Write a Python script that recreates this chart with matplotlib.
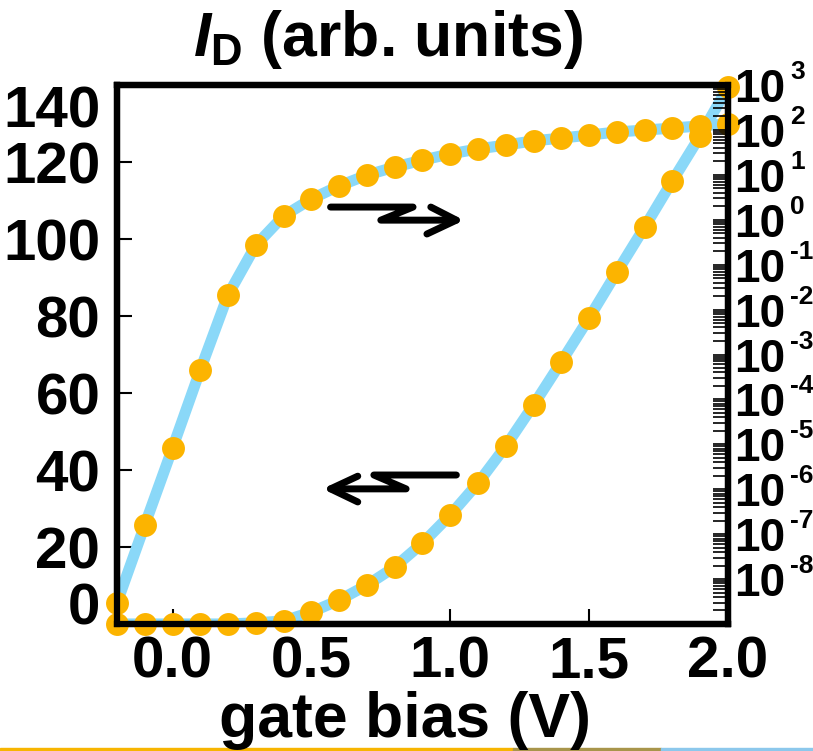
import matplotlib
matplotlib.use('Agg')
from matplotlib import pyplot as plt
from matplotlib.transforms import blended_transform_factory, offset_copy
from matplotlib.patches import Rectangle

plt.rcParams['font.family'] = ['Liberation Sans', 'DejaVu Sans']
plt.rcParams['font.weight'] = 'bold'
plt.rcParams['mathtext.fontset'] = 'custom'
plt.rcParams['mathtext.rm'] = 'Liberation Sans:bold'
plt.rcParams['mathtext.it'] = 'Liberation Sans:italic:bold'
plt.rcParams['mathtext.bf'] = 'Liberation Sans:bold'

# gate bias sweep points (V)
bias = [-0.2, -0.1, 0.0, 0.1, 0.2, 0.3, 0.4, 0.5, 0.6, 0.7, 0.8, 0.9,
        1.0, 1.1, 1.2, 1.3, 1.4, 1.5, 1.6, 1.7, 1.8, 1.9, 2.0]
# forward sweep (lower branch)
id_up = [0.0, 0.0, 0.0, 0.0, 0.0, 0.3, 0.8, 3.1, 6.2, 10.1, 14.8, 21.0,
         28.3, 36.6, 46.2, 56.9, 68.1, 79.5, 91.4, 103.1, 115.1, 126.8, 139.5]
# backward sweep (upper branch)
id_down = [5.5, 25.7, 45.7, 66.0, 85.5, 98.4, 106.0, 110.4, 113.8, 116.6, 118.7, 120.5,
           122.1, 123.4, 124.4, 125.5, 126.2, 127.0, 127.8, 128.3, 128.8, 129.4, 129.9]

lin_ticks = [0, 20, 40, 60, 80, 100, 120, 140]
x_ticks = [0.0, 0.5, 1.0, 1.5, 2.0]
x_labels = ['0.0', '0.5', '1.0', '1.5', '2.0']
decades = [-8, -7, -6, -5, -4, -3, -2, -1, 0, 1, 2, 3]

blue = '#8ad8f8'
orange = '#fcb400'

fig = plt.figure(figsize=(8.13, 7.51), dpi=100)
ax = fig.add_axes([0.1439, 0.1691, 0.7515, 0.7177])

ax.plot(bias, id_up, color=blue, lw=8, zorder=2, solid_capstyle='butt')
ax.plot(bias, id_down, color=blue, lw=8, zorder=2, solid_capstyle='butt')
ax.plot(bias, id_up, 'o', color=orange, ms=16.5, mec='none', zorder=5, clip_on=False)
ax.plot(bias, id_down, 'o', color=orange, ms=16.5, mec='none', zorder=5, clip_on=False)

# sweep direction arrows
arrow_kw = dict(color='black', lw=5, solid_capstyle='round', solid_joinstyle='round', zorder=4)
ax.plot([0.569, 0.866, 0.75, 1.022], [108.3, 108.3, 104.9, 104.9], **arrow_kw)
ax.plot([0.930, 1.022, 0.916], [108.3, 104.9, 101.3], **arrow_kw)
ax.plot([1.022, 0.725, 0.841, 0.569], [38.7, 38.7, 35.1, 35.1], **arrow_kw)
ax.plot([0.667, 0.569, 0.667], [38.4, 35.1, 31.7], **arrow_kw)

ax.set_xlim(-0.2, 2.0)
ax.set_ylim(0, 140)
ax.set_xticks(x_ticks, x_labels)
ax.set_yticks(lin_ticks, [str(v) for v in lin_ticks])
ax.tick_params(axis='both', direction='in', length=11, width=1.5, labelsize=42)
ax.tick_params(axis='y', pad=12)
ax.tick_params(axis='x', pad=8)
ticks = ax.yaxis.get_major_ticks()
ticks[-1].label1.set_va('top')
ticks[0].label1.set_va('baseline')
for s in ax.spines.values():
    s.set_linewidth(4.5)

# log scale on the right
ax2 = ax.twinx()
ax2.set_yscale('log')
ax2.set_ylim(1e-9, 1e3)
ax2.yaxis.set_major_locator(matplotlib.ticker.LogLocator(base=10, numticks=50))
ax2.yaxis.set_minor_locator(matplotlib.ticker.LogLocator(base=10, subs=range(2, 10), numticks=50))
ax2.yaxis.set_major_formatter(matplotlib.ticker.NullFormatter())
ax2.yaxis.set_minor_formatter(matplotlib.ticker.NullFormatter())
ax2.tick_params(axis='y', which='both', direction='in', length=11, width=1.2)
for s in ax2.spines.values():
    s.set_linewidth(4.5)

trans = blended_transform_factory(ax2.transAxes, ax2.transData)
for k in decades:
    ax2.text(1.0, 10.0 ** k, '10', fontsize=33, ha='left', va='center',
             transform=offset_copy(trans, fig, x=6, y=-5, units='dots'))
    ax2.text(1.0, 10.0 ** k, str(k), fontsize=19, ha='left', va='center',
             transform=offset_copy(trans, fig, x=62, y=13, units='dots'))

fig.text(0.477, 0.947, r'$\mathit{I}_{\mathrm{D}}$ (arb. units)', fontsize=45,
         ha='center', va='center')
fig.text(0.498, 0.0186, 'gate bias (V)', fontsize=45, ha='center', va='baseline')

# thin coloured strip along the bottom edge
for x0, w, c in [(0.0, 0.631, '#f7b500'), (0.631, 0.182, '#a8954a'), (0.813, 0.187, '#8cc8ec')]:
    fig.patches.append(Rectangle((x0, 0), w, 0.004, transform=fig.transFigure,
                                 color=c, zorder=0))

fig.savefig('out.png', dpi=100)
